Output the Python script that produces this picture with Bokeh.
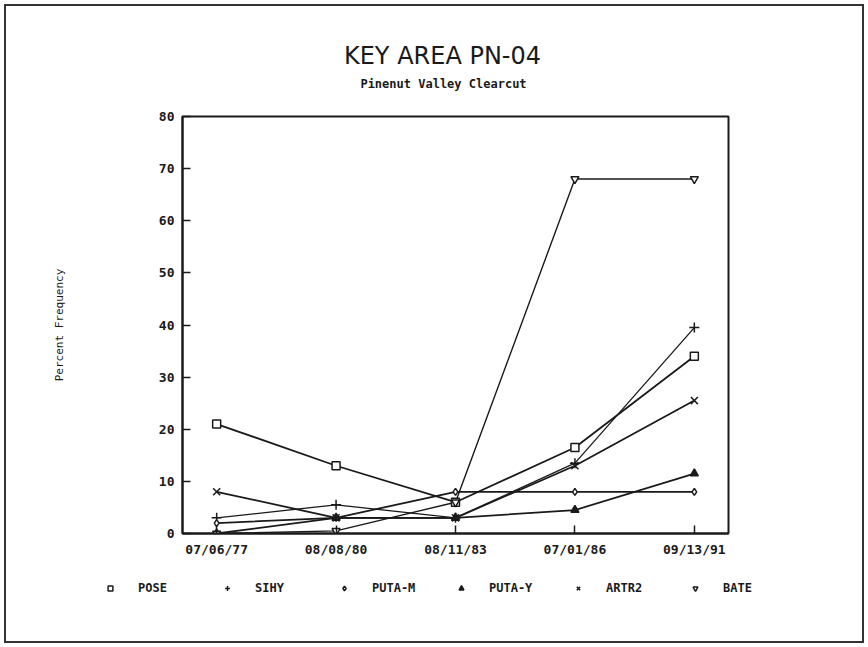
from bokeh.plotting import figure
from bokeh.layouts import column
from bokeh.models import Range1d, FixedTicker, Legend, LegendItem, Label
from bokeh.embed import file_html
from bokeh.resources import INLINE

# ---- data ----
dates = ["07/06/77", "08/08/80", "08/11/83", "07/01/86", "09/13/91"]
y_ticks = [0, 10, 20, 30, 40, 50, 60, 70, 80]
series_names = ["POSE", "SIHY", "PUTA-M", "PUTA-Y", "ARTR2", "BATE"]
pose = [21, 13, 6, 16.5, 34]
sihy = [3, 5.5, 3, 13.5, 39.5]
puta_m = [2, 3, 8, 8, 8]
puta_y = [0, 3, 3, 4.5, 11.5]
artr2 = [8, 3, 3, 13, 25.5]
bate = [0, 0.5, 6, 68, 68]
title_text = "KEY AREA PN-04"
subtitle_text = "Pinenut Valley Clearcut"
y_label = "Percent Frequency"

series_values = [pose, sihy, puta_m, puta_y, artr2, bate]
xs = list(range(len(dates)))

INK = "#1a1a1a"
MONO = "DejaVu Sans Mono"
MARGIN = 6
W = 868 - 2 * MARGIN
H_TOP = 102
H_MAIN = 459
H_LEG = 74

# ---- title strip ----
tf = figure(width=W, height=H_TOP, output_backend="svg", toolbar_location=None,
            x_range=Range1d(0, 1), y_range=Range1d(0, 1), min_border=0)
tf.frame_align = False
tf.axis.visible = False
tf.grid.visible = False
tf.outline_line_color = None
tf.background_fill_color = "white"
tf.border_fill_color = "white"
tf.add_layout(Label(x=436, y=53, x_units="screen", y_units="screen",
                    text=title_text, text_align="center", text_baseline="middle",
                    text_font="DejaVu Sans", text_font_size="24px", text_color=INK))
tf.add_layout(Label(x=437, y=25, x_units="screen", y_units="screen",
                    text=subtitle_text, text_align="center", text_baseline="middle",
                    text_font=MONO, text_font_style="bold", text_font_size="12px",
                    text_color=INK))

# ---- main chart ----
p = figure(width=W, height=H_MAIN, output_backend="svg", toolbar_location=None,
           x_range=Range1d(-0.286, 4.286), y_range=Range1d(0, 80),
           min_border_left=176, min_border_right=134,
           min_border_top=8, min_border_bottom=34)
p.frame_align = False
p.background_fill_color = "white"
p.border_fill_color = "white"
p.outline_line_color = INK
p.outline_line_width = 2
p.grid.visible = False

p.xaxis.ticker = FixedTicker(ticks=xs)
p.xaxis.major_label_overrides = {i: d for i, d in enumerate(dates)}
p.yaxis.ticker = FixedTicker(ticks=y_ticks)
for ax in (p.xaxis[0], p.yaxis[0]):
    ax.axis_line_color = INK
    ax.axis_line_width = 2
    ax.major_tick_line_color = INK
    ax.major_tick_line_width = 1.5
    ax.major_tick_in = 8
    ax.major_tick_out = 0
    ax.minor_tick_line_color = None
    ax.major_label_text_font = MONO
    ax.major_label_text_font_style = "bold"
    ax.major_label_text_font_size = "13px"
    ax.major_label_text_color = INK
    ax.major_label_standoff = 8
p.yaxis.axis_label = y_label
p.yaxis.axis_label_text_font = MONO
p.yaxis.axis_label_text_font_style = "normal"
p.yaxis.axis_label_text_font_size = "11px"
p.yaxis.axis_label_text_color = INK
p.yaxis.axis_label_standoff = 90

markers = ["square", "cross", "diamond", "triangle", "x", "inverted_triangle"]
fills = ["white", None, "white", INK, None, "white"]
sizes = [8, 10, 7, 8, 10, 8]
widths = [1.8, 1.3, 1.8, 1.8, 1.8, 1.4]


def marker_kw(m, f, s):
    kw = dict(marker=m, size=s, line_color=INK, line_width=1.5)
    if f is None:
        kw["fill_alpha"] = 0
    else:
        kw["fill_color"] = f
    return kw


for vals, w in zip(series_values, widths):
    p.line(xs, vals, line_color=INK, line_width=w)
for vals, m, f, s in zip(series_values, markers, fills, sizes):
    p.scatter(xs, vals, **marker_kw(m, f, s))

# ---- legend strip ----
lf = figure(width=W, height=H_LEG, output_backend="svg", toolbar_location=None,
            x_range=Range1d(100, 101), y_range=Range1d(100, 101), min_border=0)
lf.frame_align = False
lf.axis.visible = False
lf.grid.visible = False
lf.outline_line_color = None
lf.background_fill_color = "white"
lf.border_fill_color = "white"
leg_renderers = [lf.scatter(xs, vals, visible=False, **marker_kw(m, f, s))
                 for vals, m, f, s in zip(series_values, markers, fills, sizes)]
items = [LegendItem(label=n, renderers=[r]) for n, r in zip(series_names, leg_renderers)]
leg = Legend(items=items, orientation="horizontal", location=(98, 46),
             border_line_color=None, background_fill_alpha=0,
             inactive_fill_alpha=0,
             padding=0, margin=0, spacing=23,
             glyph_width=12, glyph_height=12, label_height=12, label_width=60,
             label_standoff=22,
             label_text_font=MONO, label_text_font_style="bold",
             label_text_font_size="12px", label_text_color=INK,
             label_text_baseline="middle")
lf.add_layout(leg)

page = column(tf, p, lf, spacing=0,
              styles={"margin": f"{MARGIN}px 0 0 {MARGIN}px",
                      "outline": "2px solid #333", "outline-offset": "0px"})

open("out.html", "w").write(file_html(page, INLINE))
